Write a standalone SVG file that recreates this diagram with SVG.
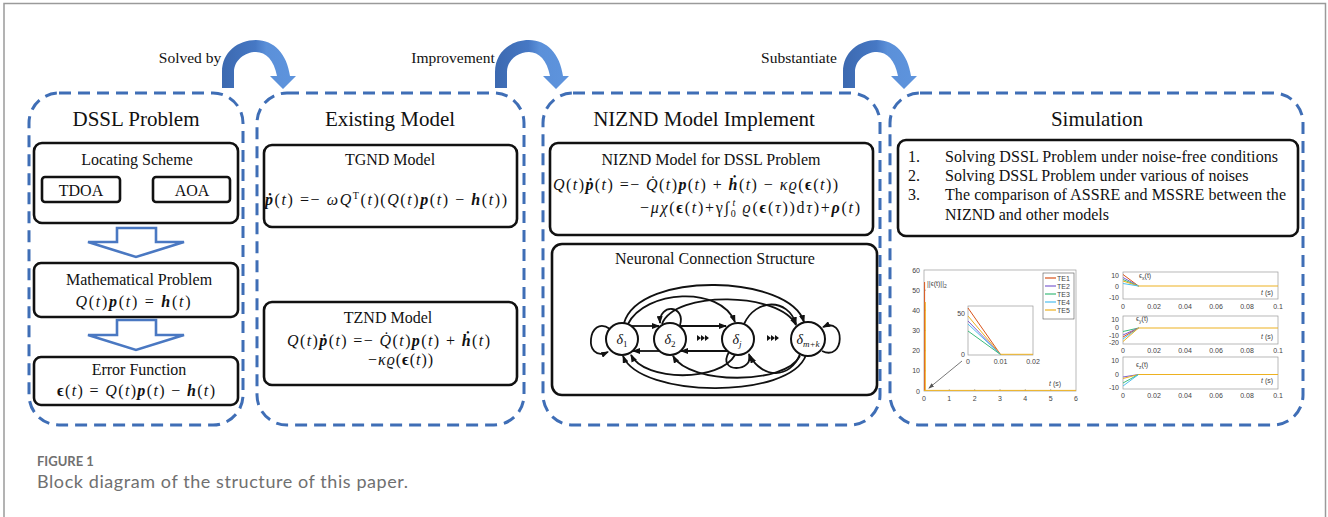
<svg xmlns="http://www.w3.org/2000/svg" width="1328" height="517" viewBox="0 0 1328 517">
  <style>
    .serif { font-family: "Liberation Serif", "DejaVu Serif", serif; fill: #111; }
    .ttl { font-size: 21px; text-anchor: middle; }
    .lbl { font-size: 16px; text-anchor: middle; }
    .eq { font-family: "Liberation Serif", "DejaVu Serif", serif; font-size: 16px; fill: #111; }
    .i { font-style: italic; }
    .bi { font-style: italic; font-weight: bold; }
    .b { font-weight: bold; }
    .panel { fill: none; stroke: #3F6EB6; stroke-width: 3; stroke-dasharray: 12 7; }
    .box { fill: #fff; stroke: #111; stroke-width: 2.6; }
    .hollow { fill: #fff; stroke: #4A78C2; stroke-width: 2.6; stroke-linejoin: miter; }
    .edge { fill: none; stroke: #111; stroke-width: 1.8; marker-end: url(#ah); }
    .node { fill: #fff; stroke: #111; stroke-width: 2; }
    .ax { fill: none; stroke: #9a9a9a; stroke-width: 0.7; }
    .tk { font-family: "Liberation Sans", Arial, sans-serif; font-size: 7px; fill: #444; }
    .d { fill: none; stroke-width: 1; }
    .cap { font-family: Lato, "Open Sans", sans-serif; fill: #707070; }
  </style>
  <defs>
    <linearGradient id="bend" x1="0" y1="0" x2="1" y2="0">
      <stop offset="0" stop-color="#3C69B0"/>
      <stop offset="0.45" stop-color="#4678C4"/>
      <stop offset="0.6" stop-color="#5B90D9"/>
      <stop offset="1" stop-color="#5E94DD"/>
    </linearGradient>
    <!-- curved transition arrow, origin at the left foot -->
    <path id="bendArrow" d="M 0 88 L 0 72 C 0 52 16 40 34 40 C 52 40 65 54 68 76 L 74 76 L 61 89 L 48 76 L 55 76 C 52 60 44 52 34 52 C 23 52 12 60 12 72 L 12 88 Z" fill="url(#bend)"/>
    <marker id="ah" viewBox="0 0 8 6" refX="7" refY="3" markerWidth="8" markerHeight="6" markerUnits="userSpaceOnUse" orient="auto">
      <path d="M0,0 L8,3 L0,6 Z" fill="#111"/>
    </marker>
    <marker id="gah" viewBox="0 0 6 4" refX="5" refY="2" markerWidth="6" markerHeight="4" markerUnits="userSpaceOnUse" orient="auto">
      <path d="M0,0 L6,2 L0,4 Z" fill="#555"/>
    </marker>
    <g id="tri3">
      <path d="M0,-3 L4,0 L0,3 Z M4,-3 L8,0 L4,3 Z M8,-3 L12,0 L8,3 Z" fill="#111"/>
    </g>
  </defs>

  <rect width="1328" height="517" fill="#fff"/>
  <!-- page frame -->
  <path d="M 4 517 L 4 3.5 L 1325.5 3.5 L 1325.5 517" fill="none" stroke="#9a9a9a" stroke-width="1.5"/>

  <!-- transition labels -->
  <text class="serif" x="190" y="63" font-size="15.5" text-anchor="middle">Solved by</text>
  <text class="serif" x="453" y="63" font-size="15.5" text-anchor="middle">Improvement</text>
  <text class="serif" x="799" y="63" font-size="15.5" text-anchor="middle">Substantiate</text>

  <!-- panels -->
  <g id="panel-dssl">
    <rect class="panel" x="29" y="93" width="214" height="332" rx="30"/>
    <text class="serif ttl" x="136" y="126">DSSL Problem</text>
    <g id="locating-scheme">
      <rect class="box" x="34" y="143" width="204" height="80" rx="8"/>
      <text class="serif lbl" x="137" y="165">Locating Scheme</text>
      <g id="tdoa">
        <rect class="box" x="42" y="177" width="78" height="25" rx="3"/>
        <text class="serif lbl" x="81" y="196">TDOA</text>
      </g>
      <g id="aoa">
        <rect class="box" x="153" y="177" width="77" height="25" rx="3"/>
        <text class="serif lbl" x="192" y="196">AOA</text>
      </g>
    </g>
    <g id="math-problem">
      <rect class="box" x="34" y="263" width="204" height="54" rx="7"/>
      <text class="serif lbl" x="139" y="285">Mathematical Problem</text>
      <text class="eq" x="133" y="307" text-anchor="middle" textLength="115"><tspan class="i">Q</tspan>(<tspan class="i">t</tspan>)<tspan class="bi">p</tspan>(<tspan class="i">t</tspan>) = <tspan class="bi">h</tspan>(<tspan class="i">t</tspan>)</text>
    </g>
    <g id="error-function">
      <rect class="box" x="34" y="357" width="204" height="48" rx="7"/>
      <text class="serif lbl" x="139" y="375">Error Function</text>
      <text class="eq" x="136" y="396" text-anchor="middle" textLength="158"><tspan class="b">ϵ</tspan>(<tspan class="i">t</tspan>) = <tspan class="i">Q</tspan>(<tspan class="i">t</tspan>)<tspan class="bi">p</tspan>(<tspan class="i">t</tspan>) − <tspan class="bi">h</tspan>(<tspan class="i">t</tspan>)</text>
    </g>
  </g>

  <g id="panel-existing">
    <rect class="panel" x="257" y="93" width="267" height="332" rx="30"/>
    <text class="serif ttl" x="390" y="126">Existing Model</text>
    <g id="tgnd">
      <rect class="box" x="264" y="145" width="253" height="82" rx="8"/>
      <text class="serif lbl" x="390" y="165">TGND Model</text>
      <text class="eq" x="265" y="205" textLength="242"><tspan class="bi">ṗ</tspan>(<tspan class="i">t</tspan>) =− <tspan class="i">ωQ</tspan><tspan dy="-6" font-size="10">T</tspan><tspan dy="6">(</tspan><tspan class="i">t</tspan>)(<tspan class="i">Q</tspan>(<tspan class="i">t</tspan>)<tspan class="bi">p</tspan>(<tspan class="i">t</tspan>) − <tspan class="bi">h</tspan>(<tspan class="i">t</tspan>))</text>
    </g>
    <g id="tznd">
      <rect class="box" x="264" y="302" width="253" height="83" rx="8"/>
      <text class="serif lbl" x="388" y="323">TZND Model</text>
      <text class="eq" x="287" y="346" textLength="203"><tspan class="i">Q</tspan>(<tspan class="i">t</tspan>)<tspan class="bi">ṗ</tspan>(<tspan class="i">t</tspan>) =− <tspan class="i">Q̇</tspan>(<tspan class="i">t</tspan>)<tspan class="bi">p</tspan>(<tspan class="i">t</tspan>) + <tspan class="bi">ḣ</tspan>(<tspan class="i">t</tspan>)</text>
      <text class="eq" x="368" y="365" textLength="65">−<tspan class="i">κϱ</tspan>(<tspan class="b">ϵ</tspan>(<tspan class="i">t</tspan>))</text>
    </g>
  </g>

  <g id="panel-niznd">
    <rect class="panel" x="543" y="93" width="337" height="332" rx="30"/>
    <text class="serif ttl" x="704" y="126">NIZND Model Implement</text>
    <g id="niznd-model">
      <rect class="box" x="550" y="143" width="323" height="92" rx="8"/>
      <text class="serif lbl" x="711" y="165">NIZND Model for DSSL Problem</text>
      <text class="eq" x="553" y="190" textLength="285"><tspan class="i">Q</tspan>(<tspan class="i">t</tspan>)<tspan class="bi">ṗ</tspan>(<tspan class="i">t</tspan>) =− <tspan class="i">Q̇</tspan>(<tspan class="i">t</tspan>)<tspan class="bi">p</tspan>(<tspan class="i">t</tspan>) + <tspan class="bi">ḣ</tspan>(<tspan class="i">t</tspan>) − <tspan class="i">κϱ</tspan>(<tspan class="b">ϵ</tspan>(<tspan class="i">t</tspan>))</text>
      <text class="eq" x="640" y="213" textLength="220">−<tspan class="i">μχ</tspan>(<tspan class="b">ϵ</tspan>(<tspan class="i">t</tspan>)+γ∫<tspan dy="4" font-size="10">0</tspan><tspan dy="-11" dx="-5" font-size="10" class="i">t</tspan><tspan dy="7"> </tspan><tspan class="i">ϱ</tspan>(<tspan class="b">ϵ</tspan>(<tspan class="i">τ</tspan>))d<tspan class="i">τ</tspan>)+<tspan class="bi">ρ</tspan>(<tspan class="i">t</tspan>)</text>
    </g>
    <g id="neuronal-structure">
      <rect class="box" x="552" y="244" width="325" height="151" rx="10"/>
      <text class="serif lbl" x="715" y="264">Neuronal Connection Structure</text>
    </g>
  </g>

  <g id="panel-simulation">
    <rect class="panel" x="890" y="93" width="413" height="332" rx="30"/>
    <text class="serif ttl" x="1097" y="126">Simulation</text>
    <g id="simulation-list">
      <rect class="box" x="898" y="140" width="400" height="96" rx="8"/>
      <g class="serif" font-size="16">
        <text x="908" y="162">1.</text>
        <text x="945" y="162" textLength="333">Solving DSSL Problem under noise-free conditions</text>
        <text x="908" y="181">2.</text>
        <text x="945" y="181">Solving DSSL Problem under various of noises</text>
        <text x="908" y="200">3.</text>
        <text x="945" y="200" textLength="341">The comparison of ASSRE and MSSRE between the</text>
        <text x="945" y="220">NIZND and other models</text>
      </g>
    </g>

    <!-- error norm plot -->
    <g id="plot-norm">
      <rect class="ax" x="924" y="270" width="152" height="121"/>
      <g class="ax">
        <path d="M949.3 391v-2M974.7 391v-2M1000 391v-2M1025.3 391v-2M1050.7 391v-2M924 370.8h2M924 350.7h2M924 330.5h2M924 310.3h2M924 290.2h2"/>
      </g>
      <g class="tk" text-anchor="end">
        <text x="920" y="272.5">60</text><text x="920" y="292.7">50</text><text x="920" y="312.8">40</text>
        <text x="920" y="333">30</text><text x="920" y="353.2">20</text><text x="920" y="373.3">10</text><text x="920" y="393.5">0</text>
      </g>
      <g class="tk" text-anchor="middle">
        <text x="924" y="401">0</text><text x="949.3" y="401">1</text><text x="974.7" y="401">2</text><text x="1000" y="401">3</text>
        <text x="1025.3" y="401">4</text><text x="1050.7" y="401">5</text><text x="1076" y="401">6</text>
      </g>
      <path class="d" d="M924.6 391V282" stroke="#D95319"/>
      <path class="d" d="M925.3 391V302" stroke="#EDB120"/>
      <path class="d" d="M924 390.4H1076" stroke="#EDB120"/>
      <text class="tk" x="927" y="286">||ϵ(t)||<tspan dy="2" font-size="5">2</tspan></text>
      <text class="tk" x="1049" y="386"><tspan font-style="italic">t</tspan> (s)</text>
      <g id="legend">
        <rect x="1043" y="273" width="31" height="46" fill="#fff" stroke="#555" stroke-width="0.6"/>
        <path d="M1045 278h11" stroke="#D95319" stroke-width="1.2"/>
        <path d="M1045 286h11" stroke="#7E5FD0" stroke-width="1.2"/>
        <path d="M1045 294h11" stroke="#3DBB7A" stroke-width="1.2"/>
        <path d="M1045 302h11" stroke="#4DBEEE" stroke-width="1.2"/>
        <path d="M1045 310h11" stroke="#EDB120" stroke-width="1.2"/>
        <g class="tk" font-size="6.5">
          <text x="1057" y="280.5">TE1</text><text x="1057" y="288.5">TE2</text><text x="1057" y="296.5">TE3</text>
          <text x="1057" y="304.5">TE4</text><text x="1057" y="312.5">TE5</text>
        </g>
      </g>
      <g id="inset">
        <rect x="968" y="306" width="65" height="49" fill="#fff" stroke="#999" stroke-width="0.7"/>
        <path class="d" d="M968 308L1000.5 354.5" stroke="#D95319"/>
        <path class="d" d="M968 316L1000.5 354.5" stroke="#EDB120"/>
        <path class="d" d="M968 321L1000.5 354.5" stroke="#7E5FD0"/>
        <path class="d" d="M968 324L1000.5 354.5" stroke="#4DBEEE"/>
        <path class="d" d="M968 331L1000.5 354.5" stroke="#3DBB7A"/>
        <path class="d" d="M1000.5 354.3H1033" stroke="#EDB120"/>
        <g class="tk" text-anchor="end"><text x="965" y="316">50</text><text x="965" y="357">0</text></g>
        <g class="tk" text-anchor="middle"><text x="968" y="364">0</text><text x="1000.5" y="364">0.01</text><text x="1033" y="364">0.02</text></g>
      </g>
      <path d="M962 361L929 388" fill="none" stroke="#555" stroke-width="0.8" marker-end="url(#gah)"/>
    </g>

    <!-- per-axis error plots -->
    <g id="plot-components">
      <g id="ex">
        <rect class="ax" x="1123" y="272" width="155" height="27"/>
        <g class="tk" text-anchor="end"><text x="1119" y="278">10</text><text x="1119" y="288.5">0</text><text x="1119" y="300">-10</text></g>
        <path class="d" d="M1123 274.5L1138.5 286" stroke="#D95319"/>
        <path class="d" d="M1123 277.5L1138.5 286" stroke="#7E5FD0"/>
        <path class="d" d="M1123 279.5L1138.5 286" stroke="#3DBB7A"/>
        <path class="d" d="M1123 281L1138.5 286" stroke="#EDB120"/>
        <path class="d" d="M1123 283.5L1138.5 286" stroke="#4DBEEE"/>
        <path class="d" d="M1138.5 286H1278" stroke="#EDB120"/>
        <text class="tk" x="1139" y="278">ϵ<tspan dy="2" font-size="5">x</tspan><tspan dy="-2">(t)</tspan></text>
        <text class="tk" x="1261" y="295"><tspan font-style="italic">t</tspan> (s)</text>
        <g class="tk" text-anchor="middle"><text x="1123" y="308.5">0</text><text x="1154" y="308.5">0.02</text><text x="1185" y="308.5">0.04</text><text x="1216" y="308.5">0.06</text><text x="1247" y="308.5">0.08</text><text x="1278" y="308.5">0.1</text></g>
      </g>
      <g id="ey">
        <rect class="ax" x="1123" y="316" width="155" height="28"/>
        <g class="tk" text-anchor="end"><text x="1119" y="322">10</text><text x="1119" y="330">0</text><text x="1119" y="337.5">-10</text><text x="1119" y="345">-20</text></g>
        <path class="d" d="M1123 331.5L1138.5 328" stroke="#3DBB7A"/>
        <path class="d" d="M1123 335L1138.5 328" stroke="#7E5FD0"/>
        <path class="d" d="M1123 337L1138.5 328" stroke="#D95319"/>
        <path class="d" d="M1123 339L1138.5 328" stroke="#4DBEEE"/>
        <path class="d" d="M1123 341.5L1138.5 328" stroke="#EDB120"/>
        <path class="d" d="M1138.5 328H1278" stroke="#EDB120"/>
        <text class="tk" x="1136" y="321">ϵ<tspan dy="2" font-size="5">y</tspan><tspan dy="-2">(t)</tspan></text>
        <text class="tk" x="1261" y="339"><tspan font-style="italic">t</tspan> (s)</text>
        <g class="tk" text-anchor="middle"><text x="1123" y="352.5">0</text><text x="1154" y="352.5">0.02</text><text x="1185" y="352.5">0.04</text><text x="1216" y="352.5">0.06</text><text x="1247" y="352.5">0.08</text><text x="1278" y="352.5">0.1</text></g>
      </g>
      <g id="ez">
        <rect class="ax" x="1123" y="357" width="155" height="32"/>
        <g class="tk" text-anchor="end"><text x="1119" y="362.5">10</text><text x="1119" y="376.5">0</text><text x="1119" y="390">-10</text></g>
        <path class="d" d="M1123 377L1138.5 374.5" stroke="#7E5FD0"/>
        <path class="d" d="M1123 378.5L1138.5 374.5" stroke="#EDB120"/>
        <path class="d" d="M1123 383L1138.5 374.5" stroke="#3DBB7A"/>
        <path class="d" d="M1123 386L1138.5 374.5" stroke="#4DBEEE"/>
        <path class="d" d="M1138.5 374.5H1278" stroke="#EDB120"/>
        <text class="tk" x="1136" y="367">ϵ<tspan dy="2" font-size="5">z</tspan><tspan dy="-2">(t)</tspan></text>
        <text class="tk" x="1261" y="383"><tspan font-style="italic">t</tspan> (s)</text>
        <g class="tk" text-anchor="middle"><text x="1123" y="397.5">0</text><text x="1154" y="397.5">0.02</text><text x="1185" y="397.5">0.04</text><text x="1216" y="397.5">0.06</text><text x="1247" y="397.5">0.08</text><text x="1278" y="397.5">0.1</text></g>
      </g>
    </g>
  </g>

  <!-- connectors: panel transitions, flow arrows, neuron links -->
  <g id="connectors">
    <use href="#bendArrow" x="222" y="0"/>
    <use href="#bendArrow" x="495" y="0"/>
    <use href="#bendArrow" x="843" y="0"/>

    <path class="hollow" d="M117 228 L156 228 L156 242 L184 242 L136 257 L88 242 L117 242 Z"/>
    <path class="hollow" d="M117 320 L156 320 L156 335 L184 335 L136 350 L88 335 L117 335 Z"/>

    <path class="edge" d="M631 326 L659 326"/>
    <path class="edge" d="M660 351 L633 351"/>
    <path class="edge" d="M678 326 L726 326"/>
    <path class="edge" d="M727 351 L681 351"/>
    <path class="edge" d="M610 329 C588 313 582 364 608 352"/>
    <path class="edge" d="M680 325 C686 305 659 303 660 323"/>
    <path class="edge" d="M729 352 C716 374 755 372 749 354"/>
    <path class="edge" d="M822 351 C845 362 846 316 823 327"/>
    <path class="edge" d="M624 323 C640 270 790 275 804 322"/>
    <path class="edge" d="M628 324 C645 290 720 285 735 322"/>
    <path class="edge" d="M662 324 C675 290 780 292 796 325"/>
    <path class="edge" d="M744 324 C756 298 788 298 796 324"/>
    <path class="edge" d="M800 354 C790 380 762 378 750 356"/>
    <path class="edge" d="M806 355 C790 400 640 398 623 356"/>
    <path class="edge" d="M800 356 C785 385 690 385 673 356"/>
    <path class="edge" d="M735 355 C720 382 645 382 631 355"/>
  </g>

  <!-- neurons -->
  <g id="neuron-1">
    <circle class="node" cx="622" cy="339" r="16"/>
    <text class="serif i" x="622" y="344" font-size="14" text-anchor="middle">δ<tspan dy="3" font-size="9" font-style="normal">1</tspan></text>
  </g>
  <g id="neuron-2">
    <circle class="node" cx="670" cy="339" r="16"/>
    <text class="serif i" x="670" y="344" font-size="14" text-anchor="middle">δ<tspan dy="3" font-size="9" font-style="normal">2</tspan></text>
  </g>
  <g id="neuron-j">
    <circle class="node" cx="738" cy="339" r="16"/>
    <text class="serif i" x="737" y="344" font-size="14" text-anchor="middle">δ<tspan dy="3" font-size="9">j</tspan></text>
  </g>
  <g id="neuron-mk">
    <circle class="node" cx="808" cy="339" r="17"/>
    <text class="serif i" x="808" y="344" font-size="14" text-anchor="middle">δ<tspan dy="3" font-size="9">m+k</tspan></text>
  </g>
  <use href="#tri3" x="697" y="338"/>
  <use href="#tri3" x="767" y="338"/>

  <!-- caption -->
  <text class="cap" x="37" y="466" font-size="13" font-weight="bold" fill="#7a7a7a">FIGURE 1</text>
  <text class="cap" x="37" y="488" font-size="18" textLength="371">Block diagram of the structure of this paper.</text>
</svg>
